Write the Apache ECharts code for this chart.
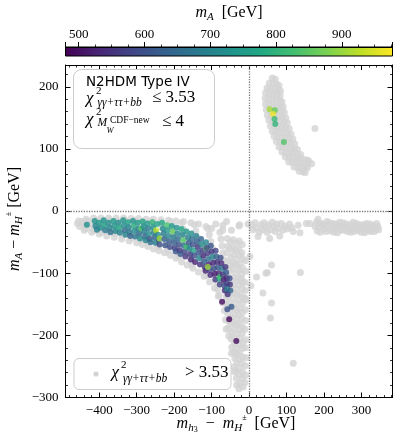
<!DOCTYPE html>
<html>
<head>
<meta charset="utf-8">
<script src="https://cdn.jsdelivr.net/npm/echarts@6/dist/echarts.min.js"></script>
<style>
  html, body { margin: 0; padding: 0; background: #fff; }
  #chart { width: 399px; height: 443px; }
</style>
</head>
<body>
<div id="chart"></div>
<script>
// points failing the fit (grey), lower branch: tail on the left
const grayLower = [
  [-458,-20],[-452,-25],[-446,-17],[-440,-23],[-434,-28],[-430,-16],[-424,-21],[-418,-27],[-414,-31],
  [-408,-15],[-402,-22],[-398,-30],[-392,-34],[-388,-17],[-382,-25],[-376,-32],[-372,-14],[-366,-20],[-362,-29],[-358,-36],
  [-352,-16],[-346,-24],[-342,-33],[-338,-39],[-332,-14],[-326,-21],[-322,-30],[-318,-38],[-312,-43],
  [-306,-15],[-302,-23],[-298,-32],[-294,-41],[-290,-47],[-284,-17],[-280,-26],[-276,-35],[-272,-44],[-268,-51],
  [-262,-16],[-258,-24],[-254,-33],[-250,-42],[-246,-50],[-242,-57],[-236,-18],[-232,-27],[-228,-37],[-224,-47],[-220,-56],[-216,-63],
  [-210,-17],[-206,-26],[-202,-36],[-198,-46],[-194,-56],[-190,-65],[-186,-72],
  [-180,-19],[-176,-29],[-172,-39],[-168,-49],[-164,-59],[-160,-69],[-156,-78],[-152,-86],
  [-146,-22],[-142,-32],[-138,-43],[-134,-53],[-130,-64],[-126,-74],[-122,-84],[-118,-94],[-114,-104],
  [-110,-28],[-106,-38],[-102,-49],[-98,-60],[-95,-71],[-92,-82],[-90,-93],[-88,-104],[-86,-115],[-84,-126],[-82,-137],
  [-78,-34],[-75,-45],[-72,-56],[-70,-67],[-68,-78],[-66,-90],[-64,-102],[-63,-114],[-62,-126],[-61,-138],[-60,-150],
  // lower rim
  [-440,-31],[-420,-34],[-400,-37],[-380,-40],[-360,-42],[-340,-45],[-320,-48],[-300,-51],[-285,-54],[-270,-57],
  [-255,-61],[-240,-64],[-225,-67],[-210,-71],[-195,-76],[-180,-82],[-165,-87],[-150,-92],[-135,-98],[-120,-105],
  [-105,-114],[-92,-124],[-80,-135],[-70,-148],[-66,-160],[-63,-175],[-61,-190],
  // upper rim
  [-455,-16],[-435,-13],[-415,-11],[-395,-11],[-375,-11],[-355,-11],[-335,-11],[-315,-12],[-295,-12],[-275,-13],
  [-255,-13],[-235,-14],[-215,-15],[-195,-16],[-175,-17],[-155,-19],[-135,-21],[-115,-25],[-100,-28],
  // steep part near the vertical line
  [-58,-44],[-57,-57],[-59,-67],[-58,-81],[-57,-92],[-58,-105],[-56,-116],[-57,-129],[-58,-139],[-56,-153],[-57,-164],[-55,-177],[-56,-188],[-54,-201],
  [-50,-50],[-51,-61],[-49,-75],[-50,-86],[-51,-97],[-49,-111],[-50,-122],[-48,-133],[-50,-147],[-49,-158],[-48,-171],[-49,-181],[-47,-195],[-48,-206],[-46,-219],[-47,-229],
  [-42,-46],[-43,-59],[-41,-70],[-42,-83],[-43,-93],[-41,-107],[-42,-118],[-40,-131],[-42,-141],[-41,-155],[-40,-166],[-42,-179],[-40,-190],[-41,-203],[-39,-213],[-40,-227],[-38,-237],[-40,-251],[-38,-259],
  [-34,-52],[-35,-63],[-33,-77],[-34,-87],[-35,-101],[-33,-112],[-34,-125],[-32,-135],[-34,-149],[-33,-160],[-32,-173],[-34,-183],[-33,-197],[-32,-208],[-34,-221],[-32,-231],[-33,-245],[-35,-256],[-34,-269],[-33,-280],
  [-26,-48],[-27,-61],[-25,-71],[-26,-85],[-27,-95],[-25,-109],[-26,-119],[-24,-133],[-26,-143],[-25,-157],[-27,-167],[-25,-181],[-26,-191],[-24,-205],[-26,-215],[-25,-229],[-27,-239],[-25,-253],[-26,-263],[-24,-277],[-27,-286],
  [-18,-54],[-19,-67],[-17,-77],[-18,-91],[-19,-101],[-17,-115],[-18,-125],[-16,-139],[-18,-149],[-17,-163],[-19,-173],[-17,-187],[-18,-197],[-16,-211],[-18,-221],[-17,-235],[-19,-245],[-17,-259],[-18,-269],[-16,-283],
  [-10,-80],[-9,-97],[-11,-115],[-10,-128],[-8,-143],[-10,-159],[-9,-176],[-11,-190],[-9,-207],[-10,-220],[-8,-236],[-10,-249],[-9,-264],[-11,-276],
  // sparse points above the band
  [-89,-21],[-70,-23],[-70,-31],[-60,-17],[-47,-31],[-27,-24],[-25,-22],[-3,-21],[-20,-108],[-11,-140]
];
// grey, upper branch
const grayUpper = [
  [62,214],[70,212],
  [54,206],[64,205],[74,204],[80,202],
  [48,198],[58,197],[68,196],[78,195],[84,193],
  [44,190],[54,189],[64,188],[74,187],[83,186],
  [43,181],[53,180],[63,180],[73,179],[83,178],[88,176],
  [44,172],[54,171],[64,171],[74,170],[84,169],[91,168],
  [46,163],[56,162],[66,162],[76,161],[86,160],[94,159],
  [49,154],[59,154],[69,153],[79,152],[89,151],[98,150],
  [53,146],[63,145],[73,145],[83,144],[93,143],[102,142],
  [57,137],[67,137],[77,136],[87,135],[97,134],[107,133],
  [62,128],[72,128],[82,127],[92,126],[102,125],[112,124],
  [67,120],[77,119],[87,119],[97,118],[107,117],[117,116],
  [73,112],[83,111],[93,110],[103,110],[113,109],[122,108],
  [80,103],[90,103],[100,102],[110,101],[120,100],[129,99],
  [88,95],[98,94],[108,94],[118,93],[128,92],[138,91],
  [97,87],[107,86],[117,85],[127,85],[137,84],[147,83],[156,82],
  [106,79],[116,78],[126,78],[136,77],[146,76],[156,76],[160,80],
  [120,71],[130,70],[140,70],[150,69],[156,70],
  [134,64],[144,63],[150,62],
  [176,133],[167,76]
];
// grey, right of the vertical line
const grayRight = [
  [6,-22],[10,-30],[16,-19],[20,-27],[24,-41],[27,-34],[32,-22],[36,-30],[40,-19],[44,-26],[48,-34],[52,-22],[55,-44],
  [58,-30],[62,-18],[66,-25],[70,-33],[74,-21],[78,-28],[82,-40],[86,-20],[90,-31],[96,-24],[102,-29],[108,-21],[114,-27],[118,-33],
  [131,-23],[136,-35],[153,-20],[162,-20],
  [180,-18],[184,-13],[186,-27],[190,-34],[196,-21],[202,-29],[208,-17],[212,-24],[218,-32],[224,-20],[230,-27],[236,-35],
  [242,-18],[248,-25],[254,-31],[260,-21],[266,-28],[272,-34],[278,-18],[284,-25],[290,-31],[296,-22],[302,-29],[308,-35],
  [314,-20],[320,-26],[326,-33],[332,-23],[338,-29],[344,-25],
  [176,-25],[182,-32],[191,-20],[199,-23],[205,-33],[215,-19],[221,-28],[227,-34],[233,-21],[239,-26],[245,-31],
  [251,-19],[257,-26],[263,-33],[269,-22],[275,-29],[281,-33],[287,-20],[293,-27],[299,-34],[305,-22],[311,-28],
  [317,-32],[323,-21],[329,-28],[335,-33],[341,-20],[346,-30],
  [2,-73],[5,-120],[20,-106],[45,-100],[49,-99],[60,-87],[137,-99],[37,-132],[60,-148],[57,-172],[118,-245]
];
// points passing the fit: [x, y, mA]
const passLower = [
  [-433,-22,725],
  [-412,-16,735],[-410,-24,700],[-406,-30,690],
  [-400,-19,745],[-397,-27,715],
  [-388,-15,730],[-386,-23,760],[-384,-31,680],
  [-375,-19,720],[-372,-27,700],[-370,-34,660],
  [-362,-16,750],[-360,-24,735],[-357,-32,705],
  [-349,-19,710],[-347,-27,770],[-345,-35,690],
  [-336,-15,740],[-334,-23,720],[-332,-31,650],[-330,-38,700],
  [-323,-18,760],[-321,-26,700],[-319,-34,680],[-317,-40,640],
  [-310,-16,730],[-308,-24,790],[-306,-32,715],[-304,-41,670],
  [-297,-19,745],[-295,-28,700],[-293,-36,655],[-291,-44,720],
  [-288,-28,850],[-284,-17,770],[-282,-25,725],[-280,-33,690],[-278,-41,640],[-276,-47,700],
  [-271,-20,740],[-269,-28,680],[-267,-37,720],[-265,-45,610],[-263,-50,660],
  [-258,-18,800],[-256,-26,735],[-254,-34,700],[-252,-42,645],[-250,-51,690],
  [-248,-31,925],[-245,-21,760],[-243,-38,710],[-241,-46,630],[-239,-54,600],
  [-239,-44,900],[-232,-19,780],[-230,-28,720],[-228,-36,690],[-226,-45,640],[-224,-55,610],
  [-219,-23,830],[-217,-31,740],[-215,-40,700],[-213,-49,620],[-211,-58,590],
  [-206,-24,750],[-204,-33,860],[-202,-42,680],[-200,-51,630],[-198,-60,570],[-196,-65,610],
  [-193,-27,725],[-191,-36,700],[-189,-45,650],[-187,-54,600],[-185,-63,560],[-183,-69,620],
  [-180,-29,770],[-178,-38,705],[-176,-47,840],[-174,-56,640],[-172,-65,580],[-170,-73,550],
  [-167,-33,740],[-167,-58,830],[-163,-42,690],[-161,-51,620],[-159,-60,700],[-157,-69,570],[-155,-78,540],
  [-154,-36,720],[-152,-45,650],[-150,-54,600],[-148,-63,760],[-146,-72,590],[-144,-82,530],
  [-141,-40,690],[-139,-49,630],[-137,-58,560],[-135,-67,610],[-133,-76,700],[-131,-86,550],
  [-128,-45,640],[-126,-54,720],[-124,-63,580],[-122,-72,540],[-120,-81,620],[-118,-90,570],[-116,-96,530],
  [-114,-60,870],[-115,-50,700],[-113,-59,600],[-111,-68,560],[-109,-77,650],[-107,-86,520],[-105,-95,580],[-103,-103,540],
  [-110,-90,900],[-102,-56,610],[-100,-65,560],[-98,-74,700],[-96,-83,540],[-94,-92,600],[-92,-101,520],[-90,-110,560],
  [-89,-64,580],[-87,-73,640],[-85,-82,550],[-83,-91,610],[-81,-100,530],[-79,-109,750],[-78,-118,570],
  [-78,-106,830],[-76,-75,600],[-74,-84,540],[-72,-93,680],[-70,-102,560],[-68,-111,520],[-66,-120,600],[-65,-128,545],
  [-63,-90,560],[-61,-99,620],[-60,-108,530],[-59,-117,580],[-58,-126,700],[-57,-134,550],
  [-52,-108,600],[-51,-118,560],[-50,-128,640],
  [-72,-146,500],[-58,-158,600],[-47,-154,620],[-53,-174,490],[-34,-209,500]
];
const passUpper = [
  [55,164,910],[69,162,860],[64,156,965],[68,148,815],[70,140,805],[93,111,840]
];
const mARange = [480, 977];
const xRange = [-490, 383];
const yRange = [-300, 235];

const viridis = ['#440154','#482475','#414487','#355f8d','#2a788e','#21918c',
                 '#22a884','#44bf70','#7ad151','#bddf26','#fde725'];

const SERIF = '"Liberation Serif", "DejaVu Serif", serif';
const SANS = '"DejaVu Sans", sans-serif';

const chart = echarts.init(document.getElementById('chart'));

const minus = v => String(v).replace('-', '\u2212');

const frameAxis = {
    axisLine: { show: true, onZero: false, lineStyle: { color: '#000', width: 1 } },
    axisTick: { show: true, inside: true, length: 5, lineStyle: { color: '#000', width: 1 } },
    minorTick: { show: true, splitNumber: 5, length: 2.5, lineStyle: { color: '#000', width: 0.8 } },
    splitLine: { show: false },
    minorSplitLine: { show: false }
};

function txt(text, x, y, size, extra) {
    return {
        type: 'text', x: x, y: y, z: 100,
        style: Object.assign({
            text: text, fontSize: size, fontFamily: SERIF, fill: '#000',
            align: 'left', verticalAlign: 'middle'
        }, extra || {})
    };
}

const richTitle = {
    i: { fontFamily: SERIF, fontStyle: 'italic', fontSize: 16, lineHeight: 20, verticalAlign: 'middle' },
    r: { fontFamily: SERIF, fontSize: 16, lineHeight: 20, verticalAlign: 'middle' },
    s: { fontFamily: SERIF, fontStyle: 'italic', fontSize: 11, lineHeight: 10, verticalAlign: 'bottom' },
    ss: { fontFamily: SERIF, fontSize: 8, lineHeight: 6, verticalAlign: 'bottom' },
    sp: { fontFamily: SERIF, fontSize: 8, lineHeight: 9, verticalAlign: 'top' }
};

let option = {
    animation: false,
    backgroundColor: '#fff',
    grid: [
        {
            left: 65.5, right: 6.5, top: 65, bottom: 45.5,
            containLabel: false, outerBoundsMode: 'none'
        },
        {
            left: 65.5, right: 6.5, top: 47, height: 9,
            containLabel: false, outerBoundsMode: 'none',
            show: true, borderColor: '#000', borderWidth: 1,
            backgroundColor: new echarts.graphic.LinearGradient(0, 0, 1, 0,
                viridis.map((c, i) => ({ offset: i / (viridis.length - 1), color: c })))
        }
    ],
    xAxis: [
        Object.assign({}, frameAxis, {
            type: 'value', gridIndex: 0, position: 'bottom',
            min: xRange[0], max: xRange[1], splitNumber: 8,
            axisLabel: {
                margin: 7, fontFamily: SERIF, fontSize: 13, color: '#000',
                showMinLabel: false, showMaxLabel: false, formatter: minus
            }
        }),
        Object.assign({}, frameAxis, {
            type: 'value', gridIndex: 0, position: 'top',
            min: xRange[0], max: xRange[1], splitNumber: 8,
            axisLabel: { show: false }
        }),
        {
            type: 'value', gridIndex: 1, position: 'top',
            min: mARange[0], max: mARange[1], splitNumber: 5,
            axisLine: { show: true, onZero: false, lineStyle: { color: '#000', width: 1 } },
            axisTick: { show: true, inside: false, length: 5, lineStyle: { color: '#000' } },
            minorTick: { show: true, splitNumber: 4, length: 2.5, lineStyle: { color: '#000', width: 0.8 } },
            splitLine: { show: false },
            axisLabel: {
                margin: 6, fontFamily: SERIF, fontSize: 13, color: '#000',
                showMinLabel: false, showMaxLabel: false
            }
        }
    ],
    yAxis: [
        Object.assign({}, frameAxis, {
            type: 'value', gridIndex: 0, position: 'left',
            min: yRange[0], max: yRange[1], interval: 100,
            axisLabel: {
                margin: 7, fontFamily: SERIF, fontSize: 13, color: '#000',
                showMaxLabel: false, formatter: minus
            }
        }),
        Object.assign({}, frameAxis, {
            type: 'value', gridIndex: 0, position: 'right',
            min: yRange[0], max: yRange[1], interval: 100,
            axisLabel: { show: false }
        }),
        { type: 'value', gridIndex: 1, min: 0, max: 1, show: false }
    ],
    visualMap: {
        type: 'continuous', show: false, seriesIndex: 1, dimension: 2,
        min: mARange[0], max: mARange[1],
        inRange: { color: viridis }
    },
    series: [
        {
            name: 'fail', type: 'scatter', xAxisIndex: 0, yAxisIndex: 0, z: 2,
            symbolSize: 7, silent: true,
            itemStyle: { color: '#d3d3d3' },
            data: grayLower.concat(grayUpper, grayRight)
        },
        {
            name: 'pass', type: 'scatter', xAxisIndex: 0, yAxisIndex: 0, z: 3,
            symbolSize: 6, silent: true,
            data: passLower.concat(passUpper)
        },
        {
            name: 'zero', type: 'scatter', xAxisIndex: 0, yAxisIndex: 0, z: 4,
            data: [],
            markLine: {
                silent: true, symbol: ['none', 'none'], label: { show: false },
                lineStyle: { type: 'dotted', color: '#7a7a7a', width: 1.3 },
                data: [{ xAxis: 0 }, { yAxis: 0 }]
            }
        }
    ],
    graphic: [
        // colourbar title
        {
            type: 'text', x: 229, y: 12.5, z: 100,
            style: {
                text: '{i|m}{s|A}{r|\u2002[GeV]}', rich: richTitle,
                align: 'center', verticalAlign: 'middle'
            }
        },
        // x axis title
        {
            type: 'text', x: 236, y: 424, z: 100,
            style: {
                text: '{i|m}{s|h}{ss|3}{r|\u2002\u2212\u2002}{i|m}{s|H}{sp|\u00b1}{r|\u2002[GeV]}', rich: richTitle,
                align: 'center', verticalAlign: 'middle'
            }
        },
        // y axis title
        {
            type: 'text', x: 15, y: 219, z: 100, rotation: Math.PI / 2,
            style: {
                text: '{i|m}{s|A}{r| \u2212 }{i|m}{s|H}{sp|\u00b1}{r| [GeV]}', rich: richTitle,
                align: 'center', verticalAlign: 'middle'
            }
        },
        // info box
        {
            type: 'rect', z: 99,
            shape: { x: 73.5, y: 69.5, width: 141, height: 79, r: 8 },
            style: { fill: 'rgba(255,255,255,0.85)', stroke: '#cccccc', lineWidth: 1 }
        },
        txt('N2HDM Type IV', 86, 82, 13.5, { fontFamily: SANS }),
        txt('\u03c7', 86, 99, 17, { fontStyle: 'italic' }),
        txt('2', 96, 91, 11),
        txt('\u03b3\u03b3+\u03c4\u03c4+bb', 97.5, 103, 11.5, { fontStyle: 'italic' }),
        txt('\u2264 3.53', 152, 97.5, 17),
        txt('\u03c7', 86, 120, 17, { fontStyle: 'italic' }),
        txt('2', 96, 112, 11),
        txt('M', 97.5, 123, 11.5, { fontStyle: 'italic' }),
        txt('CDF\u2212new', 110, 120.5, 9.5),
        txt('W', 106.5, 130.5, 8.5, { fontStyle: 'italic' }),
        txt('\u2264 4', 162, 121.5, 17),
        // legend
        {
            type: 'rect', z: 99,
            shape: { x: 74, y: 358.5, width: 157, height: 31, r: 5 },
            style: { fill: 'rgba(255,255,255,0.85)', stroke: '#cccccc', lineWidth: 1 }
        },
        {
            type: 'circle', z: 100,
            shape: { cx: 96, cy: 374, r: 2.6 },
            style: { fill: '#d3d3d3' }
        },
        txt('\u03c7', 111.5, 372.5, 17, { fontStyle: 'italic' }),
        txt('2', 121, 365, 11),
        txt('\u03b3\u03b3+\u03c4\u03c4+bb', 123, 378.5, 11.5, { fontStyle: 'italic' }),
        txt('> 3.53', 185, 373, 17)
    ]
};

chart.setOption(option);
</script>
</body>
</html>
